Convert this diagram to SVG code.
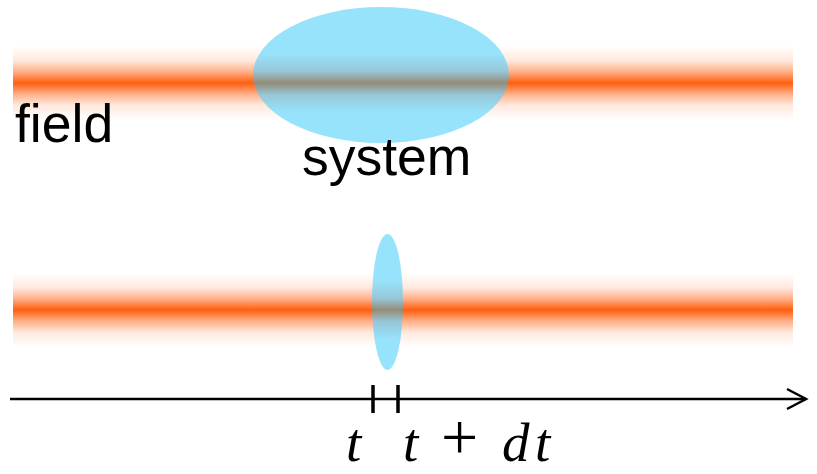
<svg xmlns="http://www.w3.org/2000/svg" width="817" height="474" viewBox="0 0 817 474">
<style>
.lbl{font-family:"Liberation Sans",Arial,sans-serif;font-size:53.5px;fill:#000}
.math{font-family:"Liberation Serif","Times New Roman",serif;font-style:italic;font-size:55px;fill:#000}
.plus{font-family:"Liberation Serif","Times New Roman",serif;font-size:66px;fill:#000}
.axis{stroke:#000;stroke-width:2.5;fill:none}
.tick{stroke:#000;stroke-width:3.5}
</style>
<defs>
<linearGradient id="band" x1="0" y1="0" x2="0" y2="1">
<stop offset="0" stop-color="#FF5F0F" stop-opacity="0"/>
<stop offset="0.2" stop-color="#FF5F0F" stop-opacity="0.14"/>
<stop offset="0.35" stop-color="#FF5F0F" stop-opacity="0.5"/>
<stop offset="0.5" stop-color="#FF5F0F" stop-opacity="1"/>
<stop offset="0.65" stop-color="#FF5F0F" stop-opacity="0.5"/>
<stop offset="0.8" stop-color="#FF5F0F" stop-opacity="0.14"/>
<stop offset="1" stop-color="#FF5F0F" stop-opacity="0"/>
</linearGradient>
<linearGradient id="sys1" gradientUnits="userSpaceOnUse" x1="0" y1="54" x2="0" y2="112">
<stop offset="0" stop-color="#97E3FB"/>
<stop offset="0.3" stop-color="#97C6D8"/>
<stop offset="0.5" stop-color="#948C78"/>
<stop offset="0.7" stop-color="#97C6D8"/>
<stop offset="1" stop-color="#97E3FB"/>
</linearGradient>
<linearGradient id="sys2" gradientUnits="userSpaceOnUse" x1="0" y1="281" x2="0" y2="339">
<stop offset="0" stop-color="#97E3FB"/>
<stop offset="0.3" stop-color="#97C6D8"/>
<stop offset="0.5" stop-color="#948C78"/>
<stop offset="0.7" stop-color="#97C6D8"/>
<stop offset="1" stop-color="#97E3FB"/>
</linearGradient>
<marker id="arrow" markerUnits="userSpaceOnUse" markerWidth="24" markerHeight="26" refX="21" refY="12" orient="auto">
<path d="M2,2 L21,12 L2,22" fill="none" stroke="#000" stroke-width="2.5"/>
</marker>
</defs>
<g id="field1"><rect x="13" y="46" width="780" height="74" fill="url(#band)"/></g>
<g id="field2"><rect x="13" y="273" width="780" height="74" fill="url(#band)"/></g>
<g id="system1"><ellipse cx="381" cy="75" rx="128" ry="68" fill="url(#sys1)"/></g>
<g id="system2"><ellipse cx="387.5" cy="302" rx="15.5" ry="68" fill="url(#sys2)"/></g>
<g id="connectors">
<line class="axis" x1="10" y1="399" x2="806" y2="399" marker-end="url(#arrow)"/>
<line class="tick" x1="373" y1="385" x2="373" y2="413"/>
<line class="tick" x1="398" y1="385" x2="398" y2="413"/>
</g>
<g id="labels">
<text class="lbl" x="15" y="142">field</text>
<text class="lbl" x="302" y="175">system</text>
<text class="math" x="346" y="461">t</text>
<text class="math" x="403" y="461">t</text>
<text class="plus" x="441" y="459">+</text>
<text class="math" x="502" y="461">d</text>
<text class="math" x="535" y="461">t</text>
</g>
</svg>
